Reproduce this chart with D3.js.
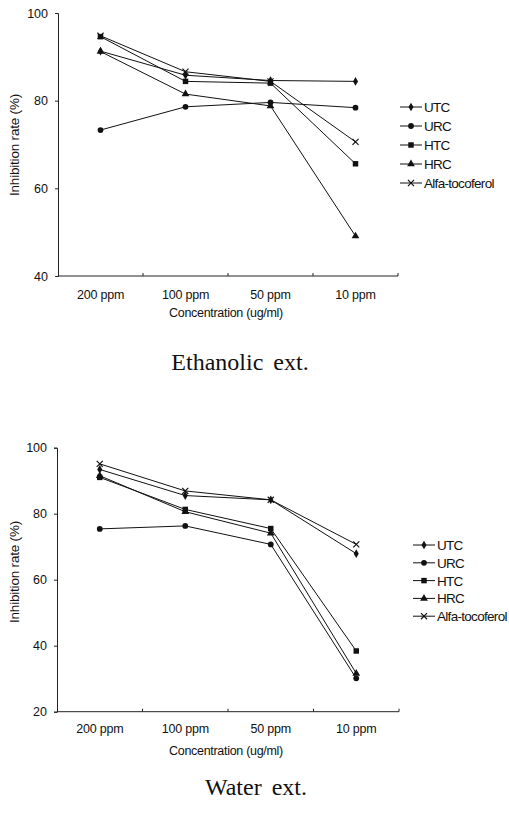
<!DOCTYPE html>
<html>
<head>
<meta charset="utf-8">
<script src="https://cdn.jsdelivr.net/npm/d3@7"></script>
<style>
  html, body { margin: 0; padding: 0; background: #fff; }
  svg { display: block; }
  text { font-family: "Liberation Sans", Arial, sans-serif; fill: #111; }
</style>
</head>
<body>
<svg id="chart" width="509" height="814"></svg>
<script>
// ---------- data ----------
const categories = ["200 ppm", "100 ppm", "50 ppm", "10 ppm"];
const seriesNames = ["UTC", "URC", "HTC", "HRC", "Alfa-tocoferol"];
const seriesSymbols = ["diamond", "circle", "square", "triangle", "x"];

// Ethanolic extract
const ethUTC  = [91.3, 85.8, 84.6, 84.4];
const ethURC  = [73.3, 78.6, 79.6, 78.4];
const ethHTC  = [94.6, 84.4, 84.0, 65.6];
const ethHRC  = [91.2, 81.5, 78.8, 49.1];
const ethAlfa = [94.8, 86.6, 84.4, 70.6];
const ethTicks = [40, 60, 80, 100];

// Water extract
const watUTC  = [93.4, 85.5, 84.2, 67.9];
const watURC  = [75.4, 76.3, 70.7, 30.1];
const watHTC  = [91.0, 81.3, 75.5, 38.4];
const watHRC  = [91.5, 80.6, 74.1, 31.6];
const watAlfa = [95.1, 86.9, 84.2, 70.7];
const watTicks = [20, 40, 60, 80, 100];

const yTitle = "Inhibition rate (%)";
const xTitle = "Concentration (ug/ml)";

// ---------- drawing ----------
const svg = d3.select("#chart");

const symbolTypes = {
  diamond: d3.symbolDiamond,
  circle: d3.symbolCircle,
  square: d3.symbolSquare,
  triangle: d3.symbolTriangle,
  x: d3.symbolX
};
const symbolSizes = { diamond: 22, circle: 26, square: 30, triangle: 26, x: 26 };

function drawMarker(g, type, cx, cy) {
  const path = d3.symbol().type(symbolTypes[type]).size(symbolSizes[type])();
  const p = g.append("path")
    .attr("d", path)
    .attr("transform", `translate(${cx},${cy})`);
  if (type === "x") {
    p.attr("fill", "none").attr("stroke", "#111").attr("stroke-width", 1.2);
  } else {
    p.attr("fill", "#111").attr("stroke", "none");
  }
}

function panel(cfg) {
  const g = svg.append("g");
  const x = d3.scaleBand().domain(categories).range([cfg.x0, cfg.x1]).padding(0);
  const y = d3.scaleLinear().domain(cfg.yDomain).range([cfg.yBottom, cfg.yTop]);
  const cx = c => x(c) + x.bandwidth() / 2;

  // y axis
  const yAxis = d3.axisLeft(y).tickValues(cfg.ticks).tickSize(3).tickPadding(7);
  const ya = g.append("g").attr("transform", `translate(${cfg.x0},0)`).call(yAxis);
  ya.select(".domain").attr("stroke", "#222").attr("stroke-width", 1);
  ya.selectAll(".tick line").attr("stroke", "#222");
  ya.selectAll("text").style("font-size", "12.5px").attr("fill", "#111")
    .style("font-family", "'Liberation Sans', Arial, sans-serif");

  // x axis line with ticks pointing up at band boundaries
  g.append("line")
    .attr("x1", cfg.x0).attr("x2", cfg.x1)
    .attr("y1", cfg.yBottom).attr("y2", cfg.yBottom)
    .attr("stroke", "#222").attr("stroke-width", 1);
  const bounds = categories.slice(1).map(c => x(c)).concat([cfg.x1]);
  g.selectAll(".xtick").data(bounds).enter().append("line")
    .attr("x1", d => d).attr("x2", d => d)
    .attr("y1", cfg.yBottom).attr("y2", cfg.yBottom - 3)
    .attr("stroke", "#222");
  const xAxis = d3.axisBottom(x).tickSize(0).tickPadding(cfg.xLabelPad);
  const xa = g.append("g").attr("transform", `translate(0,${cfg.yBottom})`).call(xAxis);
  xa.select(".domain").remove();
  xa.selectAll("text").style("font-size", "12.5px").attr("fill", "#111")
    .style("font-family", "'Liberation Sans', Arial, sans-serif")
    .style("letter-spacing", "-0.2px");

  // axis titles
  g.append("text")
    .attr("transform", `translate(${cfg.yTitleX},${cfg.yTitleY}) rotate(-90)`)
    .attr("text-anchor", "middle")
    .style("font-size", "13.5px")
    .style("letter-spacing", "-0.2px")
    .text(yTitle);
  g.append("text")
    .attr("x", (cfg.x0 + cfg.x1) / 2 - 2).attr("y", cfg.xTitleY)
    .attr("text-anchor", "middle")
    .style("font-size", "12.5px")
    .style("letter-spacing", "-0.3px")
    .text(xTitle);

  // series
  const line = d3.line().x((d, i) => cx(categories[i])).y(d => y(d));
  cfg.series.forEach((vals, si) => {
    g.append("path").datum(vals)
      .attr("d", line).attr("fill", "none")
      .attr("stroke", "#111").attr("stroke-width", 1);
  });
  cfg.series.forEach((vals, si) => {
    vals.forEach((v, i) => drawMarker(g, seriesSymbols[si], cx(categories[i]), y(v)));
  });

  // legend
  seriesNames.forEach((name, i) => {
    const ly = cfg.legY + i * cfg.legGap;
    g.append("line")
      .attr("x1", cfg.legX).attr("x2", cfg.legX + 22)
      .attr("y1", ly).attr("y2", ly)
      .attr("stroke", "#111").attr("stroke-width", 1);
    drawMarker(g, seriesSymbols[i], cfg.legX + 11, ly);
    g.append("text")
      .attr("x", cfg.legX + 24).attr("y", ly + 5)
      .style("font-size", "13.5px")
      .style("letter-spacing", "-0.7px")
      .text(name);
  });

  // caption
  g.append("text")
    .attr("x", cfg.capX).attr("y", cfg.capY)
    .attr("text-anchor", "middle")
    .style("font-family", "'Liberation Serif', 'Times New Roman', serif")
    .style("font-size", "24px")
    .style("word-spacing", "4px")
    .text(cfg.caption);
}

panel({
  x0: 58, x1: 398, yTop: 13, yBottom: 276, yDomain: [40, 100], ticks: ethTicks,
  series: [ethUTC, ethURC, ethHTC, ethHRC, ethAlfa],
  xLabelPad: 14, xTitleY: 317, yTitleX: 19, yTitleY: 145,
  legX: 400, legY: 107, legGap: 19,
  caption: "Ethanolic ext.", capX: 240, capY: 370
});

panel({
  x0: 57, x1: 399, yTop: 447.7, yBottom: 711.7, yDomain: [20, 100], ticks: watTicks,
  series: [watUTC, watURC, watHTC, watHRC, watAlfa],
  xLabelPad: 12, xTitleY: 755, yTitleX: 19, yTitleY: 572,
  legX: 413, legY: 545, legGap: 17.8,
  caption: "Water ext.", capX: 256, capY: 795
});
</script>
</body>
</html>
